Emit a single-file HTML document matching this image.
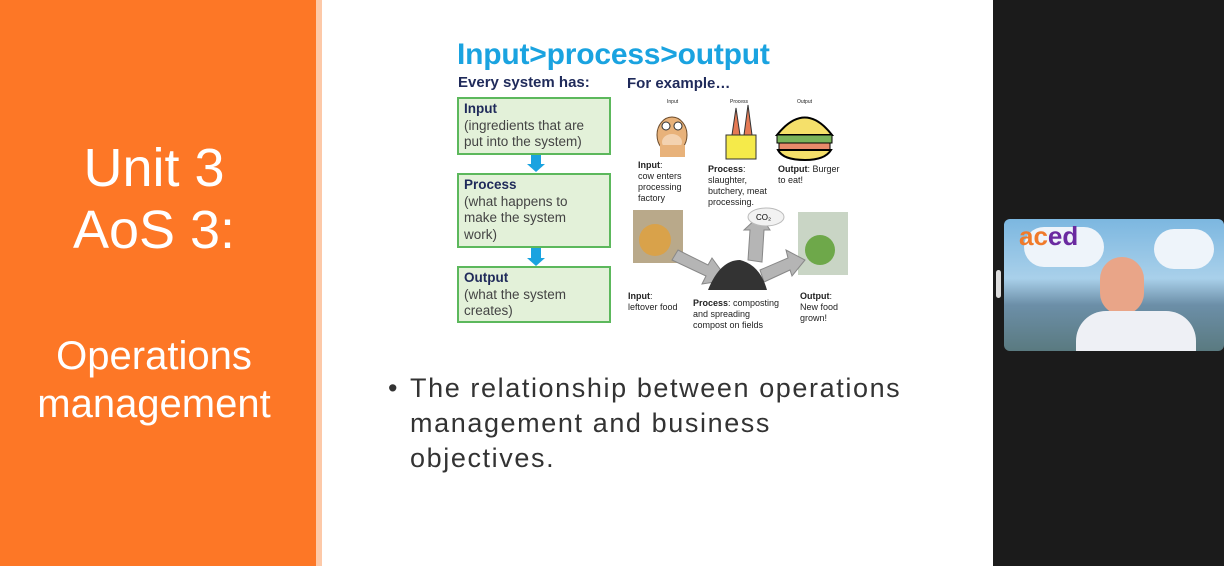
<!DOCTYPE html>
<html><head><meta charset="utf-8"><style>
*{margin:0;padding:0;box-sizing:border-box}
body{width:1224px;height:566px;overflow:hidden;background:#1b1b1b;position:relative;font-family:"Liberation Sans",sans-serif}
.a{position:absolute}
.or{left:0;top:0;width:316px;height:566px;background:#fd7726}
.strip{left:316px;top:0;width:6px;height:566px;background:#fdc9a8}
.slide{left:322px;top:0;width:671px;height:566px;background:#fff}
.lt{color:#fff;text-align:center;width:308px;left:0;font-weight:300}
.box{position:absolute;left:457px;width:154px;background:#e3f1d9;border:2px solid #5cb85c;padding:2px 5px;font-size:13.5px;line-height:16.5px;color:#1f2a5a;white-space:nowrap}
.box b{color:#1f2a5a}
.box span{color:#444}
.sm{font-size:9px;line-height:11px;color:#222}
.dn{position:absolute;left:527px;width:0;height:0;border-left:9px solid transparent;border-right:9px solid transparent;border-top:8px solid #1aa3e0}
.dns{position:absolute;left:531px;width:10px;background:#1aa3e0}
</style></head><body>
<div class="a or"></div>
<div class="a strip"></div>
<div class="a slide"></div>
<div class="a lt" style="top:137px;font-size:54px;line-height:62px">Unit 3<br>AoS 3:</div>
<div class="a lt" style="top:332px;font-size:40px;line-height:48px">Operations<br>management</div>

<div class="a" style="left:457px;top:38px;font-size:30px;font-weight:bold;color:#1aa3e0;letter-spacing:-0.2px">Input&gt;process&gt;output</div>
<div class="a" style="left:458px;top:74px;font-size:15px;font-weight:bold;color:#1f2a5a">Every system has:</div>
<div class="a" style="left:627px;top:75px;font-size:15px;font-weight:bold;color:#1f2a5a">For example…</div>

<div class="box" style="top:97px;height:58px"><b>Input</b><br><span>(ingredients that are<br>put into the system)</span></div>
<div class="dns" style="top:155px;height:9px"></div><div class="dn" style="top:164px"></div>
<div class="box" style="top:173px;height:75px"><b>Process</b><br><span>(what happens to<br>make the system<br>work)</span></div>
<div class="dns" style="top:248px;height:10px"></div><div class="dn" style="top:258px"></div>
<div class="box" style="top:266px;height:57px"><b>Output</b><br><span>(what the system<br>creates)</span></div>

<div class="a sm" style="left:667px;top:97px;font-size:5px">Input</div>
<div class="a sm" style="left:730px;top:97px;font-size:5px">Process</div>
<div class="a sm" style="left:797px;top:97px;font-size:5px">Output</div>
<svg class="a" style="left:620px;top:100px" width="240" height="230">
<ellipse cx="52" cy="35" rx="15" ry="18" fill="#e8b27a" stroke="#6b4a2a"/>
<ellipse cx="52" cy="42" rx="10" ry="8" fill="#f3d2b0"/>
<circle cx="46" cy="26" r="4" fill="#fff" stroke="#333"/><circle cx="58" cy="26" r="4" fill="#fff" stroke="#333"/>
<rect x="40" y="45" width="25" height="12" fill="#e8b27a"/>
<rect x="106" y="35" width="30" height="24" fill="#f5ea4a" stroke="#333"/>
<polygon points="112,35 116,8 120,35" fill="#e57a55" stroke="#333"/>
<polygon points="124,35 128,5 132,35" fill="#e57a55" stroke="#333"/>
<path d="M157 35 Q185 0 212 35 Z" fill="#f5e06a" stroke="#000" stroke-width="2"/>
<rect x="157" y="35" width="55" height="8" fill="#7ab35a" stroke="#000"/>
<rect x="159" y="43" width="51" height="7" fill="#e88a6a" stroke="#000"/>
<path d="M158 50 H211 Q205 60 185 60 Q163 60 158 50Z" fill="#f5e06a" stroke="#000" stroke-width="2"/>
<rect x="13" y="110" width="50" height="53" fill="#b9a98a"/>
<circle cx="35" cy="140" r="16" fill="#d9a24a"/>
<rect x="178" y="112" width="50" height="63" fill="#c9d5c5"/>
<circle cx="200" cy="150" r="15" fill="#6ea84a"/>
<polygon points="58,150 88,165 92,158 108,180 82,184 86,176 52,160" fill="#b5b5b5" stroke="#888"/>
<polygon points="128,160 130,130 124,130 140,115 150,130 144,130 142,162" fill="#b5b5b5" stroke="#888"/>
<polygon points="140,170 168,158 166,150 185,160 172,176 170,170 144,182" fill="#b5b5b5" stroke="#888"/>
<ellipse cx="146" cy="117" rx="18" ry="9" fill="#f2f2f2" stroke="#bbb"/>
<text x="136" y="120" font-size="8" font-family="Liberation Sans">CO₂</text>
<path d="M88 190 Q100 160 120 160 Q140 165 147 190 Z" fill="#333"/>
</svg>
<div class="a sm" style="left:638px;top:160px"><b>Input</b>:<br>cow enters<br>processing<br>factory</div>
<div class="a sm" style="left:708px;top:164px"><b>Process</b>:<br>slaughter,<br>butchery, meat<br>processing.</div>
<div class="a sm" style="left:778px;top:164px"><b>Output</b>: Burger<br>to eat!</div>
<div class="a sm" style="left:628px;top:291px"><b>Input</b>:<br>leftover food</div>
<div class="a sm" style="left:693px;top:298px"><b>Process</b>: composting<br>and spreading<br>compost on fields</div>
<div class="a sm" style="left:800px;top:291px"><b>Output</b>:<br>New food<br>grown!</div>

<div class="a" style="left:388px;top:371px;font-size:27px;line-height:35px;color:#333">•</div>
<div class="a" style="left:410px;top:371px;width:580px;font-size:27px;line-height:35px;color:#333;letter-spacing:1.6px;font-weight:300">The relationship between operations<br>management and business<br>objectives.</div>

<div class="a" style="left:996px;top:270px;width:5px;height:28px;background:#ddd;border-radius:3px"></div>
<div class="a" style="left:1004px;top:219px;width:220px;height:132px;border-radius:6px;overflow:hidden;background:linear-gradient(#7cb7e0 0%,#a9d0ea 45%,#6c8fa8 65%,#5a7a80 100%)">
<div class="a" style="left:20px;top:8px;width:80px;height:40px;background:#eef4fa;border-radius:20px"></div>
<div class="a" style="left:150px;top:10px;width:60px;height:40px;background:#eef4fa;border-radius:20px"></div>
<div class="a" style="left:15px;top:2px;font-size:26px;font-weight:bold;color:#f07a2a">ac<span style="color:#6a2aa0">ed</span></div>
<div class="a" style="left:96px;top:38px;width:44px;height:58px;background:#e9a588;border-radius:22px"></div>
<div class="a" style="left:72px;top:92px;width:120px;height:50px;background:#eef0f5;border-radius:30px 30px 0 0"></div>
</div>
</body></html>
